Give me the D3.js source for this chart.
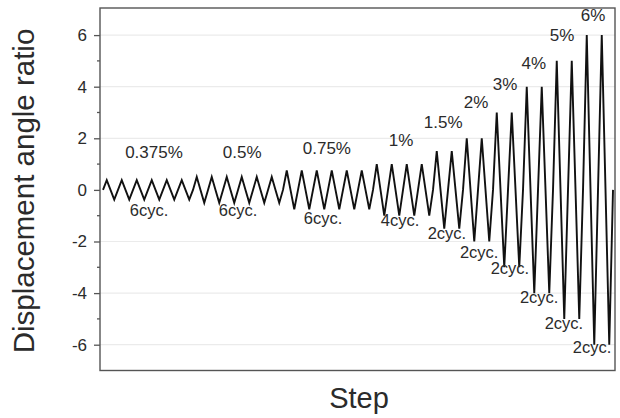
<!DOCTYPE html>
<html>
<head>
<meta charset="utf-8">
<script src="https://cdn.jsdelivr.net/npm/d3@7/dist/d3.min.js"></script>
<style>
  body { margin: 0; background: #fff; }
  text { font-family: "Liberation Sans", Arial, sans-serif; fill: #2b2b2b; }
</style>
</head>
<body>
<div id="canvas"></div>
<script>
// loading protocol
var levels = ["0.375%", "0.5%", "0.75%", "1%", "1.5%", "2%", "3%", "4%", "5%", "6%"];
var amplitudes = [0.375, 0.5, 0.75, 1, 1.5, 2, 3, 4, 5, 6];
var cycles = [6, 6, 6, 4, 2, 2, 2, 2, 2, 2];
var cycLabels = ["6cyc.", "6cyc.", "6cyc.", "4cyc.", "2cyc.", "2cyc.", "2cyc.", "2cyc.", "2cyc.", "2cyc."];
var yTicks = [-6, -4, -2, 0, 2, 4, 6];

// label anchors, in step / ratio units
var levelPos = [[13.6, 1.47], [37.1, 1.47], [59.7, 1.63], [79.5, 1.94], [90.7, 2.64],
                [99.5, 3.41], [107.2, 4.11], [114.9, 4.92], [122.4, 6.01], [130.7, 6.78]];
var cycPos = [[12.3, -0.78], [36, -0.78], [58.7, -1.09], [79.2, -1.16], [91.7, -1.67],
              [100.3, -2.40], [108.5, -3.02], [116.3, -4.15], [122.9, -5.16], [130.4, -6.09]];

// build step series: 0, +A, 0, -A per cycle
var series = [];
var step = 0;
amplitudes.forEach(function(a, g) {
  for (var c = 0; c < cycles[g]; c++) {
    series.push({step: step++, v: 0});
    series.push({step: step++, v: a});
    series.push({step: step++, v: 0});
    series.push({step: step++, v: -a});
  }
});
series.push({step: step, v: 0});

var width = 620, height = 418;
var margin = {top: 8, right: 5, bottom: 47.5, left: 100};

var svg = d3.select("#canvas").append("svg")
  .attr("width", width)
  .attr("height", height);

var x = d3.scaleLinear().domain([-0.8, step + 0.53]).range([margin.left, width - margin.right]);
var y = d3.scaleLinear().domain([-7, 7.05]).range([height - margin.bottom, margin.top]);

// faint grid
svg.append("g").selectAll("line")
  .data(yTicks.filter(function(d) { return d !== 0; }))
  .enter().append("line")
    .attr("x1", x.range()[0]).attr("x2", x.range()[1])
    .attr("y1", function(d) { return y(d); })
    .attr("y2", function(d) { return y(d); })
    .attr("stroke", "#ebebeb").attr("stroke-width", 1.2);

// y axis, major + minor ticks (plain hyphen for negatives)
var yAxis = svg.append("g")
  .attr("transform", "translate(" + margin.left + ",0)")
  .call(d3.axisLeft(y).tickValues(yTicks).tickSize(6).tickPadding(7)
    .tickFormat(function(d) { return String(d); }));
yAxis.select(".domain").remove();
yAxis.selectAll("line").attr("stroke", "#555").attr("stroke-width", 1.3);
yAxis.selectAll("text").style("font-size", "17px").attr("fill", "#2b2b2b");

svg.append("g").selectAll("line")
  .data([-5, -3, -1, 1, 3, 5])
  .enter().append("line")
    .attr("x1", margin.left - 3).attr("x2", margin.left)
    .attr("y1", function(d) { return y(d); })
    .attr("y2", function(d) { return y(d); })
    .attr("stroke", "#555").attr("stroke-width", 1.3);

// frame
svg.append("rect")
  .attr("x", x.range()[0]).attr("y", y.range()[1])
  .attr("width", x.range()[1] - x.range()[0])
  .attr("height", y.range()[0] - y.range()[1])
  .attr("fill", "none").attr("stroke", "#555").attr("stroke-width", 1.4);

// zigzag
var line = d3.line()
  .x(function(d) { return x(d.step); })
  .y(function(d) { return y(d.v); });

svg.append("path")
  .datum(series)
  .attr("d", line)
  .attr("fill", "none")
  .attr("stroke", "#111")
  .attr("stroke-width", 1.9)
  .attr("stroke-linejoin", "miter");

// annotations
svg.append("g").selectAll("text")
  .data(levels)
  .enter().append("text")
    .attr("x", function(d, i) { return x(levelPos[i][0]); })
    .attr("y", function(d, i) { return y(levelPos[i][1]); })
    .attr("dy", "0.35em")
    .attr("text-anchor", "middle")
    .style("font-size", "17px")
    .text(function(d) { return d; });

svg.append("g").selectAll("text")
  .data(cycLabels)
  .enter().append("text")
    .attr("x", function(d, i) { return x(cycPos[i][0]); })
    .attr("y", function(d, i) { return y(cycPos[i][1]); })
    .attr("dy", "0.35em")
    .attr("text-anchor", "middle")
    .style("font-size", "16.5px")
    .text(function(d) { return d; });

// axis titles
svg.append("text")
  .attr("transform", "translate(34,191) rotate(-90)")
  .attr("text-anchor", "middle")
  .style("font-size", "29.5px")
  .text("Displacement angle ratio");

svg.append("text")
  .attr("x", 359).attr("y", 408)
  .attr("text-anchor", "middle")
  .style("font-size", "29px")
  .text("Step");
</script>
</body>
</html>
